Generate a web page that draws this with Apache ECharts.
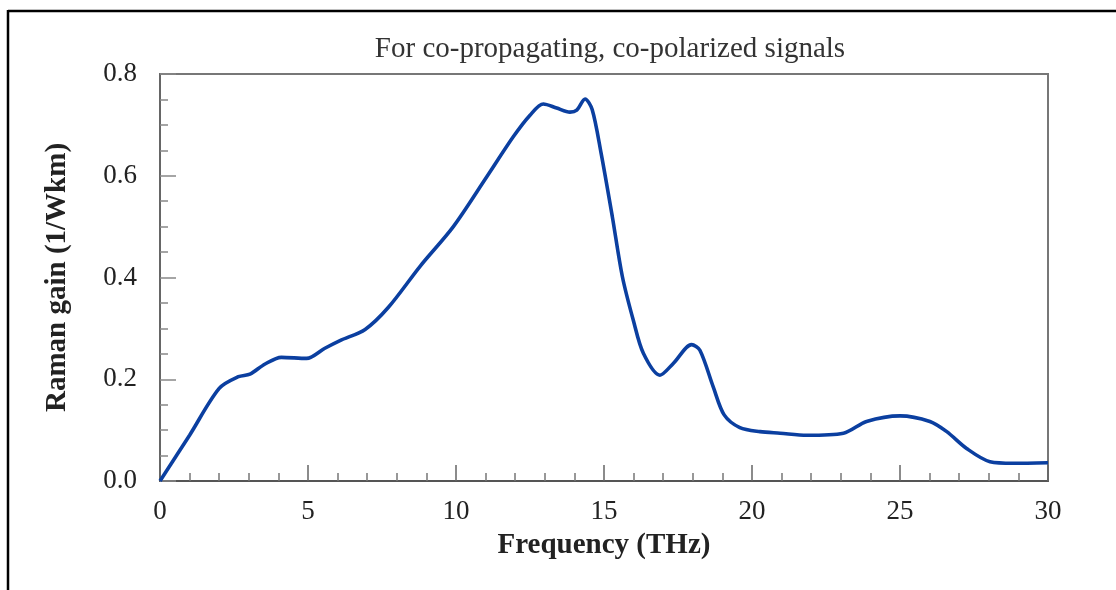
<!DOCTYPE html>
<html>
<head>
<meta charset="utf-8">
<script src="https://cdn.jsdelivr.net/npm/echarts@6/dist/echarts.min.js"></script>
<style>html,body{margin:0;padding:0;background:#fff;}#c{width:1116px;height:590px;}</style>
</head>
<body>
<div id="c"></div>
<script>
const frequency = [0, 1, 2, 2.65, 3.04, 3.55, 4.1, 4.95, 5.57, 6.08, 6.93, 7.71, 8.8, 9.91, 11.04, 11.94, 12.5, 12.95, 13.4, 13.85, 14.08, 14.36, 14.6, 14.9, 15.28, 15.62, 15.99, 16.33, 16.89, 17.34, 17.96, 18.24, 18.69, 19.06, 19.59, 20.27, 20.95, 21.85, 23.09, 23.87, 25.0, 26.01, 26.58, 27.25, 28.04, 28.83, 30];
const gain =      [0, 0.09, 0.182, 0.205, 0.21, 0.23, 0.243, 0.241, 0.261, 0.276, 0.298, 0.341, 0.423, 0.5, 0.598, 0.677, 0.719, 0.741, 0.733, 0.725, 0.729, 0.751, 0.73, 0.645, 0.52, 0.402, 0.316, 0.251, 0.208, 0.231, 0.268, 0.257, 0.185, 0.13, 0.105, 0.097, 0.094, 0.09, 0.094, 0.117, 0.128, 0.117, 0.097, 0.064, 0.038, 0.035, 0.036];
const titleText = 'For co-propagating, co-polarized signals';
const xName = 'Frequency (THz)';
const yName = 'Raman gain (1/Wkm)';

const chart = echarts.init(document.getElementById('c'), null, {renderer: 'canvas'});
const serif = 'Liberation Serif';
chart.setOption({
  animation: false,
  title: {text: titleText, left: 605, top: 30, textAlign: 'center',
    textStyle: {fontFamily: serif, fontSize: 29, fontWeight: 'normal', color: '#333'}},
  grid: {left: 160, right: 68, top: 74, bottom: 109, show: true, borderColor: '#777', borderWidth: 2, backgroundColor: 'transparent'},
  graphic: [
    {type: 'line', shape: {x1: 8, y1: 11, x2: 1116, y2: 11}, style: {stroke: '#000', lineWidth: 2.5}},
    {type: 'line', shape: {x1: 8, y1: 10, x2: 8, y2: 590}, style: {stroke: '#000', lineWidth: 2.5}}
  ],
  xAxis: {type: 'value', min: 0, max: 30, interval: 5,
    name: xName, nameLocation: 'middle', nameGap: 50,
    nameTextStyle: {fontFamily: serif, fontSize: 29, fontWeight: 'bold', color: '#222'},
    axisLine: {lineStyle: {color: '#555', width: 2}},
    axisTick: {inside: true, length: 16, lineStyle: {color: '#666', width: 1.5}},
    minorTick: {show: true, splitNumber: 5, length: 8, lineStyle: {color: '#777', width: 1.5}},
    splitLine: {show: false},
    axisLabel: {margin: 17, fontFamily: serif, fontSize: 27, color: '#222'}},
  yAxis: {type: 'value', min: 0, max: 0.8, interval: 0.2,
    name: yName, nameLocation: 'middle', nameGap: 88, nameRotate: 90,
    nameTextStyle: {fontFamily: serif, fontSize: 29, fontWeight: 'bold', color: '#222'},
    axisLine: {show: true, lineStyle: {color: '#666', width: 2}},
    axisTick: {show: true, inside: true, length: 16, lineStyle: {color: '#888', width: 1.5}},
    minorTick: {show: true, splitNumber: 4, length: 8, lineStyle: {color: '#888', width: 1.5}},
    splitLine: {show: false},
    axisLabel: {margin: 23, fontFamily: serif, fontSize: 27, color: '#222', formatter: v => v.toFixed(1)}},
  series: [{type: 'line', data: frequency.map((f, i) => [f, gain[i]]), smooth: 0.3, showSymbol: false,
    lineStyle: {color: '#0b3fa0', width: 3.6}}]
});
</script>
</body>
</html>
